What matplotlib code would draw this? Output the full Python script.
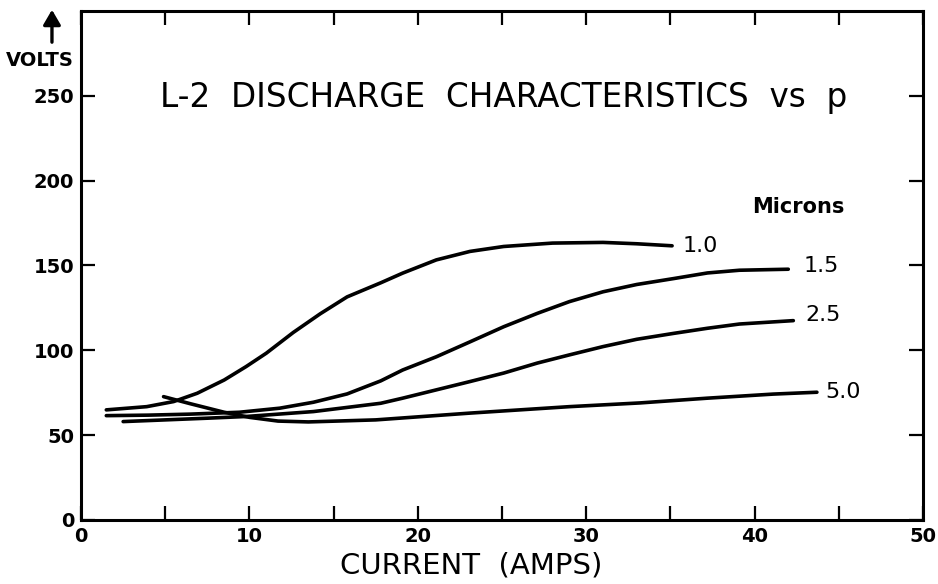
import matplotlib
matplotlib.use("Agg")
import matplotlib.pyplot as plt
from matplotlib.ticker import MultipleLocator

# Discharge characteristics of L-2 at several pressures (microns)
amps_1_0 = [1.5, 3.9, 5.5, 6.9, 8.5, 9.8, 11.0, 12.6, 14.2, 15.8, 17.8, 19.1,
            21.1, 23.1, 25.1, 28.0, 31.0, 33.0, 35.1]
volts_1_0 = [64.9, 66.8, 69.8, 74.7, 82.5, 90.4, 98.3, 110.5, 121.5, 131.5,
             139.8, 145.5, 153.3, 158.3, 161.2, 163.2, 163.6, 162.8, 161.6]

amps_1_5 = [1.5, 4.0, 6.5, 9.4, 11.8, 13.8, 15.8, 17.8, 19.1, 21.1, 23.1, 25.1,
            27.1, 29.0, 31.0, 33.0, 35.2, 37.2, 39.1, 42.0]
volts_1_5 = [61.5, 61.8, 62.4, 63.5, 65.9, 69.4, 74.3, 82.0, 88.4, 96.2, 105.0,
             113.9, 121.8, 128.7, 134.5, 138.8, 142.3, 145.6, 147.2, 147.8]

amps_2_5 = [2.5, 5.0, 7.5, 9.8, 13.8, 17.8, 19.1, 21.1, 23.1, 25.1, 27.1, 29.0,
            31.0, 33.0, 35.2, 37.2, 39.1, 42.3]
volts_2_5 = [58.0, 59.0, 60.0, 61.0, 63.9, 68.8, 71.8, 76.7, 81.6, 86.6, 92.5,
             97.3, 102.2, 106.5, 110.0, 113.0, 115.5, 117.5]

amps_5_0 = [4.9, 6.5, 8.5, 10.0, 11.7, 13.5, 17.5, 23.1, 29.0, 33.2, 37.2, 41.1, 43.7]
volts_5_0 = [72.7, 68.5, 63.5, 60.5, 58.3, 57.8, 59.0, 63.0, 66.8, 69.0, 71.8, 74.2, 75.3]

pressure_labels = ["1.0", "1.5", "2.5", "5.0"]
series = [(amps_1_0, volts_1_0), (amps_1_5, volts_1_5),
          (amps_2_5, volts_2_5), (amps_5_0, volts_5_0)]
label_pos = [(35.7, 161.6), (42.9, 149.8), (43.0, 120.9), (44.2, 75.5)]

x_ticks = [0, 10, 20, 30, 40, 50]
y_ticks = [0, 50, 100, 150, 200, 250]

plt.rcParams['font.family'] = ['DejaVu Sans']

fig = plt.figure(figsize=(9.38, 5.84), dpi=100)
ax = fig.add_axes([0.0864, 0.1096, 0.8976, 0.8716])

for (xs, ys) in series:
    ax.plot(xs, ys, color="black", lw=2.6, solid_capstyle="round",
            solid_joinstyle="round")

for txt, (lx, ly) in zip(pressure_labels, label_pos):
    ax.text(lx, ly, txt, fontsize=16, ha="left", va="center", color="black")

ax.text(39.85, 184.6, "Microns", fontsize=15, fontweight="bold",
        ha="left", va="center")
ax.text(4.69, 248.8, "L-2  DISCHARGE  CHARACTERISTICS  vs  p", fontsize=23.5,
        ha="left", va="center")

ax.set_xlim(0, 50)
ax.set_ylim(0, 300)
ax.set_xticks(x_ticks)
ax.set_xticklabels([str(v) for v in x_ticks])
ax.set_yticks(y_ticks)
ax.set_yticklabels([str(v) for v in y_ticks])
ax.xaxis.set_minor_locator(MultipleLocator(5))

for lab in ax.get_xticklabels() + ax.get_yticklabels():
    lab.set_fontweight("bold")
    lab.set_fontsize(14)

ax.tick_params(axis="both", which="both", direction="in", width=1.6,
               length=10, top=True, right=True, pad=5)
ax.tick_params(axis="x", which="minor", length=10)

for sp in ax.spines.values():
    sp.set_linewidth(2.2)

fig.text(0.502, 0.031, "CURRENT  (AMPS)", fontsize=21, ha="center", va="center")
fig.text(0.0426, 0.897, "VOLTS", fontsize=14, fontweight="bold",
         ha="center", va="center")
fig.add_artist(matplotlib.patches.FancyArrowPatch(
    (0.0554, 0.923), (0.0554, 0.988), transform=fig.transFigure,
    arrowstyle="-|>,head_length=6,head_width=3.5", lw=2.4, color="black",
    mutation_scale=1.5))

fig.savefig("out.png", dpi=100)
